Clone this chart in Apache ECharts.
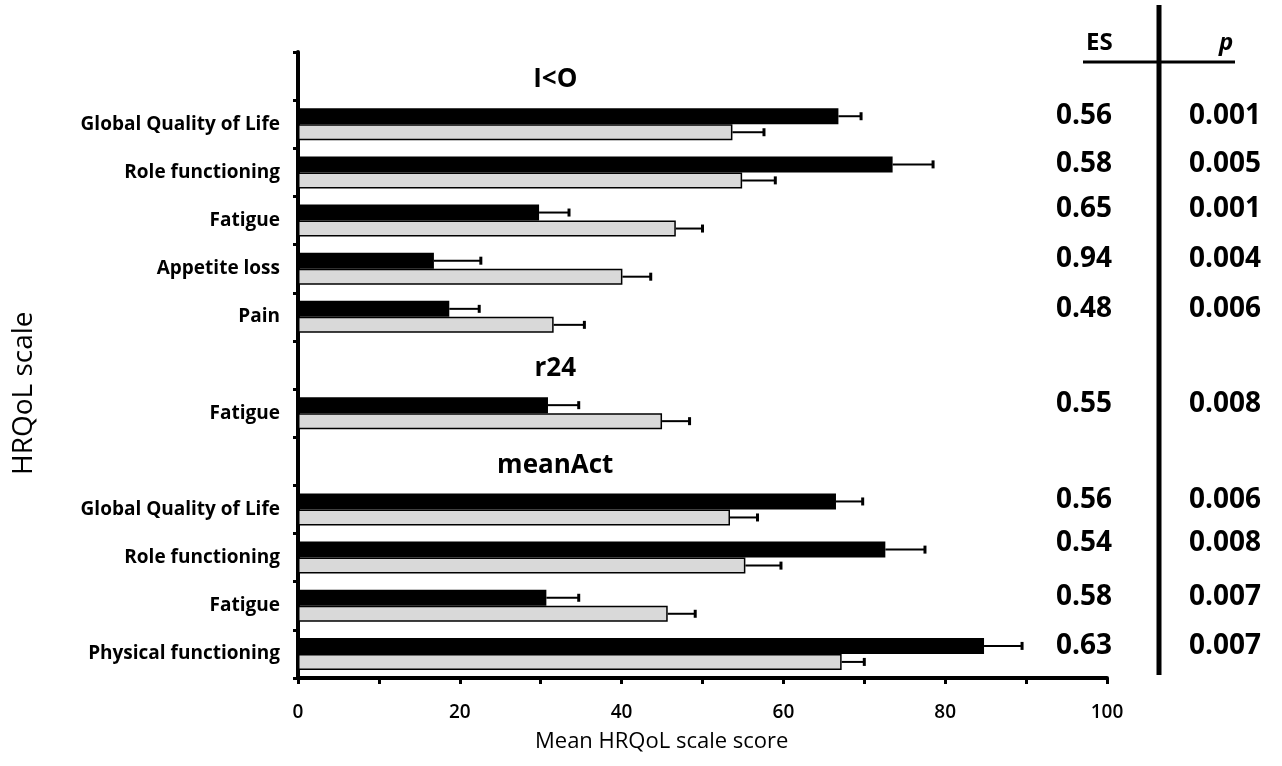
<!DOCTYPE html>
<html style="height: 100%">
<head>
    <meta charset="utf-8">
</head>
<body style="height: 100%; margin: 0; background: #fff">
<div id="container" style="width: 1282px; height: 766px"></div>
<script type="text/javascript" src="https://cdn.jsdelivr.net/npm/echarts@6/dist/echarts.min.js"></script>
<script type="text/javascript">
    // rows from top to bottom, header rows have an empty label
    var rowLabels = ['', 'Global Quality of Life', 'Role functioning', 'Fatigue', 'Appetite loss', 'Pain',
        '', 'Fatigue', '', 'Global Quality of Life', 'Role functioning', 'Fatigue', 'Physical functioning'];
    var groupNames = ['I<O', 'r24', 'meanAct'];
    var groupRows = [0, 6, 8];
    var groupX = 31.8;

    // black = first group, grey = second group (null on header rows)
    var blackMean = [null, 66.8, 73.5, 29.8, 16.8, 18.7, null, 30.9, null, 66.5, 72.6, 30.7, 84.8];
    var blackErr  = [null, 2.8, 5.0, 3.7, 5.8, 3.7, null, 3.8, null, 3.3, 4.9, 4.0, 4.7];
    var greyMean  = [null, 53.7, 54.9, 46.7, 40.1, 31.6, null, 45.0, null, 53.4, 55.3, 45.7, 67.2];
    var greyErr   = [null, 3.9, 4.1, 3.3, 3.5, 3.8, null, 3.4, null, 3.4, 4.4, 3.4, 2.8];

    var esValues = ['0.56', '0.58', '0.65', '0.94', '0.48', '0.55', '0.56', '0.54', '0.58', '0.63'];
    var pValues = ['0.001', '0.005', '0.001', '0.004', '0.006', '0.008', '0.006', '0.008', '0.007', '0.007'];

    // layout only: vertical centre of each table line (px)
    var tableY = [116, 164, 209, 259, 309, 404, 500, 543, 597, 646];

    var FONT = '"Open Sans", "DejaVu Sans", sans-serif';
    var BAR_W = 16;

    var rowIds = rowLabels.map(function (l, i) { return 'r' + i; });

    function errData(mean, err) {
        var out = [];
        mean.forEach(function (m, i) {
            if (m != null) out.push([m, i, err[i]]);
        });
        return out;
    }

    function errorBar(offset) {
        return function (params, api) {
            var m = api.value(0), row = api.value(1), e = api.value(2);
            var p0 = api.coord([m, row]);
            var p1 = api.coord([m + e, row]);
            var y = p0[1] + offset;
            return {
                type: 'group',
                children: [{
                    type: 'line',
                    shape: {x1: p0[0], y1: y, x2: p1[0], y2: y},
                    style: {stroke: '#000', lineWidth: 2}
                }, {
                    type: 'line',
                    shape: {x1: p1[0], y1: y - 4, x2: p1[0], y2: y + 4},
                    style: {stroke: '#000', lineWidth: 3}
                }]
            };
        };
    }

    var graphics = [
        {type: 'text', x: 10, y: 475, rotation: Math.PI / 2, style: {
            text: 'HRQoL scale', font: '28px ' + FONT, fill: '#000'}},
        {type: 'text', x: 535, y: 731, style: {text: 'Mean HRQoL scale score', font: '22px ' + FONT, fill: '#000'}},
        // table lines
        {type: 'line', shape: {x1: 1159, y1: 5, x2: 1159, y2: 675}, style: {stroke: '#000', lineWidth: 5}},
        {type: 'line', shape: {x1: 1083, y1: 62, x2: 1235, y2: 62}, style: {stroke: '#000', lineWidth: 3}},
        {type: 'text', x: 1086, y: 31, style: {text: 'ES', font: 'bold 24px ' + FONT, fill: '#000'}},
        {type: 'text', x: 1219, y: 31, style: {text: 'p', font: 'italic bold 24px ' + FONT, fill: '#000'}}
    ];
    esValues.forEach(function (v, i) {
        graphics.push({type: 'text', x: 1084, y: tableY[i], style: {
            text: v, font: 'bold 28px ' + FONT, fill: '#000', align: 'center', verticalAlign: 'middle'}});
        graphics.push({type: 'text', x: 1225, y: tableY[i], style: {
            text: pValues[i], font: 'bold 28px ' + FONT, fill: '#000', align: 'center', verticalAlign: 'middle'}});
    });

    var dom = document.getElementById("container");
    var myChart = echarts.init(dom);
    var option = {
        animation: false,
        backgroundColor: '#fff',
        grid: {left: 298, right: 175, top: 52, bottom: 88},
        xAxis: {
            type: 'value',
            min: 0,
            max: 100,
            interval: 10,
            splitLine: {show: false},
            axisLine: {show: true, lineStyle: {color: '#000', width: 4}},
            axisTick: {show: true, length: 6, lineStyle: {color: '#000', width: 3}},
            axisLabel: {
                margin: 25,
                fontSize: 19,
                fontWeight: 600,
                fontFamily: FONT,
                color: '#000',
                formatter: function (v) { return v % 20 === 0 ? String(v) : ''; }
            }
        },
        yAxis: {
            type: 'category',
            inverse: true,
            data: rowIds,
            axisLine: {show: true, lineStyle: {color: '#000', width: 4}},
            axisTick: {show: true, length: 5, lineStyle: {color: '#000', width: 3}},
            axisLabel: {
                margin: 18,
                fontSize: 19,
                fontWeight: 'bold',
                fontFamily: FONT,
                color: '#000',
                formatter: function (v, i) { return rowLabels[i]; }
            }
        },
        series: [{
            type: 'bar',
            data: blackMean,
            barWidth: BAR_W,
            barGap: '0%',
            itemStyle: {color: '#000'}
        }, {
            type: 'bar',
            data: greyMean,
            barWidth: BAR_W,
            barGap: '0%',
            itemStyle: {color: '#d9d9d9', borderColor: '#000', borderWidth: 1.5}
        }, {
            type: 'custom',
            data: errData(blackMean, blackErr),
            encode: {x: 0, y: 1},
            renderItem: errorBar(-BAR_W / 2),
            z: 5
        }, {
            type: 'custom',
            data: errData(greyMean, greyErr),
            encode: {x: 0, y: 1},
            renderItem: errorBar(BAR_W / 2),
            z: 5
        }, {
            type: 'custom',
            data: groupRows.map(function (r) { return [groupX, r]; }),
            encode: {x: 0, y: 1},
            renderItem: function (params, api) {
                var p = api.coord([api.value(0), api.value(1)]);
                return {
                    type: 'text',
                    x: p[0],
                    y: p[1] + 4,
                    style: {text: groupNames[params.dataIndex], font: 'bold 26px ' + FONT,
                        fill: '#000', align: 'center', verticalAlign: 'middle'}
                };
            }
        }],
        graphic: graphics
    };
    myChart.setOption(option);
</script>
</body>
</html>
